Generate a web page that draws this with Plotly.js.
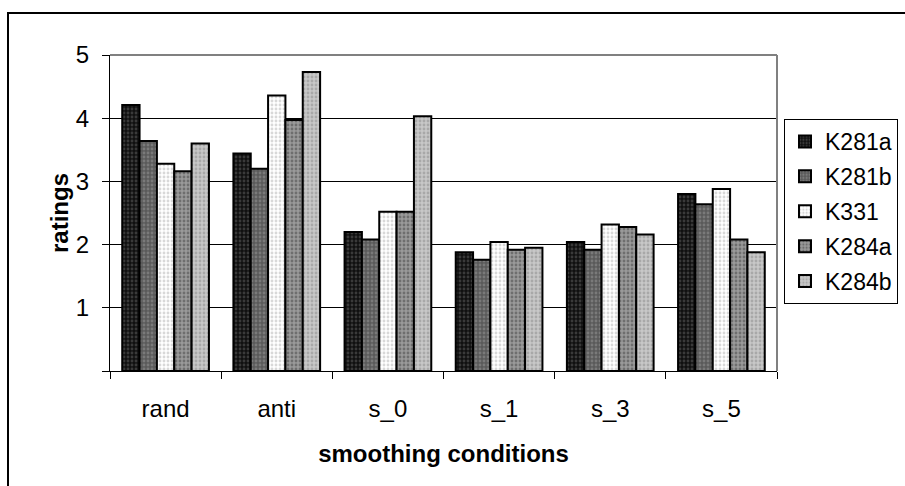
<!DOCTYPE html>
<html>
<head>
<meta charset="utf-8">
<script src="https://cdn.plot.ly/plotly-3.0.1.min.js"></script>
<style>html,body{margin:0;padding:0;background:#fff;}#chart{width:905px;height:486px;}</style>
</head>
<body>
<div id="chart"></div>
<script>
const categories = ['rand', 'anti', 's_0', 's_1', 's_3', 's_5'];
const seriesNames = ['K281a', 'K281b', 'K331', 'K284a', 'K284b'];
const K281a = [4.21, 3.44, 2.20, 1.88, 2.04, 2.80];
const K281b = [3.64, 3.20, 2.08, 1.76, 1.92, 2.64];
const K331  = [3.28, 4.36, 2.52, 2.04, 2.32, 2.88];
const K284a = [3.16, 3.97, 2.52, 1.92, 2.28, 2.08];
const K284b = [3.60, 4.73, 4.03, 1.95, 2.16, 1.88];
const seriesValues = [K281a, K281b, K331, K284a, K284b];
const yTicks = [0, 1, 2, 3, 4, 5];
const yTickLabels = ['', '1', '2', '3', '4', '5'];

const fills = [
  {bg: '#101010', fg: '#3a3a3a'},
  {bg: '#5a5a5a', fg: '#7a7a7a'},
  {bg: '#ffffff', fg: '#d8d8d8'},
  {bg: '#9a9a9a', fg: '#6e6e6e'},
  {bg: '#c8c8c8', fg: '#a8a8a8'}
];

const FONT = '"Liberation Sans", Arial, sans-serif';

const traces = seriesNames.map((name, i) => ({
  type: 'bar',
  name: name,
  x: categories,
  y: seriesValues[i],
  legendgroup: 'g' + i,
  marker: {
    color: fills[i].bg,
    line: {color: '#000', width: 2},
    pattern: {shape: '.', bgcolor: fills[i].bg, fgcolor: fills[i].fg, size: 4, solidity: 0.4, fillmode: 'replace'}
  },
  hoverinfo: 'x+y+name'
}));

const L = 110, R = 777, T = 55, B = 371, W = 905, H = 486;
const pw = R - L, ph = B - T;
const px = v => (v - L) / pw;
const py = v => (B - v) / ph;

const layout = {
  width: W, height: H,
  margin: {l: L, r: W - R, t: T, b: H - B, pad: 0, autoexpand: false},
  paper_bgcolor: '#fff',
  plot_bgcolor: '#fff',
  font: {family: FONT, size: 24, color: '#000'},
  barmode: 'group',
  bargap: 0.22,
  bargroupgap: 0,
  showlegend: true,
  legend: {
    x: px(784), y: py(119), xanchor: 'left', yanchor: 'top',
    bordercolor: '#000', borderwidth: 1, bgcolor: '#fff',
    font: {family: FONT, size: 23, color: '#000'},
    traceorder: 'grouped', tracegroupgap: 2,
    itemwidth: 30
  },
  xaxis: {
    type: 'category',
    showline: true, linecolor: '#000', linewidth: 1,
    ticks: 'outside', tickson: 'boundaries', ticklen: 7, tickcolor: '#000', tickwidth: 1,
    ticklabelstandoff: 16,
    tickfont: {family: FONT, size: 24, color: '#000'},
    title: {text: 'smoothing conditions', font: {family: FONT, size: 24, color: '#000', weight: 'bold'}, standoff: 24},
    showgrid: false, zeroline: false, fixedrange: true, automargin: true
  },
  yaxis: {
    range: [0, 5],
    tickmode: 'array', tickvals: yTicks, ticktext: yTickLabels,
    showline: true, linecolor: '#000', linewidth: 1,
    ticks: 'outside', ticklen: 7, tickcolor: '#000', tickwidth: 1,
    ticklabelstandoff: 8,
    tickfont: {family: FONT, size: 24, color: '#000'},
    showgrid: true, gridcolor: '#000', gridwidth: 1,
    zeroline: false,
    title: {text: 'ratings', font: {family: FONT, size: 24, color: '#000', weight: 'bold'}, standoff: 0},
    fixedrange: true, automargin: true
  },
  shapes: [
    {type: 'rect', xref: 'paper', yref: 'paper', x0: px(8), x1: px(960), y0: py(540), y1: py(13),
     line: {color: '#000', width: 2}, fillcolor: 'rgba(0,0,0,0)', layer: 'below'},
    {type: 'line', xref: 'paper', yref: 'paper', x0: 0, x1: 1, y0: 1, y1: 1, line: {color: '#808080', width: 2}, layer: 'above'},
    {type: 'line', xref: 'paper', yref: 'paper', x0: 1, x1: 1, y0: 0, y1: 1, line: {color: '#808080', width: 2}, layer: 'above'}
  ]
};

Plotly.newPlot('chart', traces, layout, {displayModeBar: false, staticPlot: true});
</script>
</body>
</html>
